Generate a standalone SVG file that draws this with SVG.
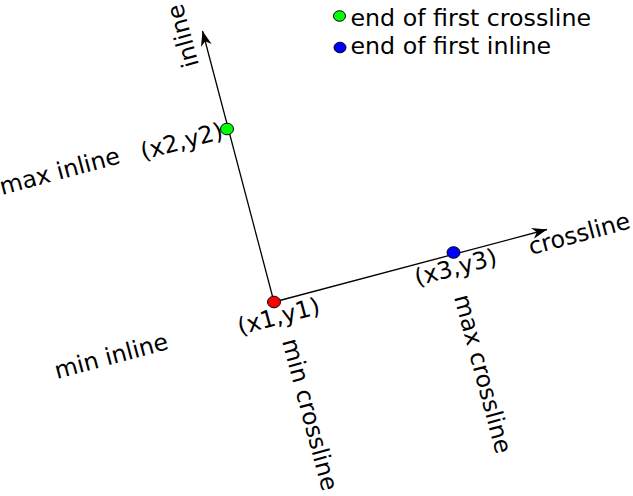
<svg xmlns="http://www.w3.org/2000/svg" width="633" height="496" viewBox="0 0 633 496">
<style>
text { font-family: "DejaVu Sans", "Liberation Sans", sans-serif; font-size: 23.7px; fill: #000; }
.axis { stroke: #000; stroke-width: 1.3; fill: none; }
.dot { stroke: #000; stroke-width: 1; }
</style>
<defs>
<marker id="arrow" markerUnits="userSpaceOnUse" markerWidth="20" markerHeight="14" viewBox="-16 -7 17 14" refX="0" refY="0" orient="auto">
<path d="M 0,0 L -15,-5.5 L -10.5,0 L -15,5.5 Z" fill="#000"/>
</marker>
</defs>
<g id="connectors">
<line class="axis" x1="274" y1="302" x2="202.5" y2="31" marker-end="url(#arrow)"/>
<line class="axis" x1="274" y1="302" x2="547" y2="229.5" marker-end="url(#arrow)"/>
</g>
<g id="legend">
<ellipse class="dot" cx="339.5" cy="16" rx="6" ry="5.3" fill="#00ff00"/>
<text x="350.5" y="25.5">end of first crossline</text>
<ellipse class="dot" cx="340" cy="47.5" rx="6" ry="5.3" fill="#0000ff"/>
<text x="350.5" y="54">end of first inline</text>
</g>
<g id="inline-label"><text transform="translate(199,65) rotate(-105)">inline</text></g>
<g id="crossline-label"><text transform="translate(531,255) rotate(-15)">crossline</text></g>
<g id="p2">
<ellipse class="dot" cx="227" cy="129" rx="6.5" ry="5.8" fill="#00ff00"/>
<text transform="translate(143,160) rotate(-15)">(x2,y2)</text>
</g>
<g id="p1">
<ellipse class="dot" cx="274" cy="302" rx="6.5" ry="5.8" fill="#ff0000"/>
<text transform="translate(240,335) rotate(-15)">(x1,y1)</text>
</g>
<g id="p3">
<ellipse class="dot" cx="453.5" cy="252.5" rx="6.5" ry="5.8" fill="#0000ff"/>
<text transform="translate(417,286) rotate(-15)">(x3,y3)</text>
</g>
<g id="max-inline"><text transform="translate(2,195) rotate(-15)">max inline</text></g>
<g id="min-inline"><text transform="translate(57,379) rotate(-15)">min inline</text></g>
<g id="min-crossline"><text transform="translate(282,341) rotate(75)">min crossline</text></g>
<g id="max-crossline"><text transform="translate(454,297) rotate(75)">max crossline</text></g>
</svg>
